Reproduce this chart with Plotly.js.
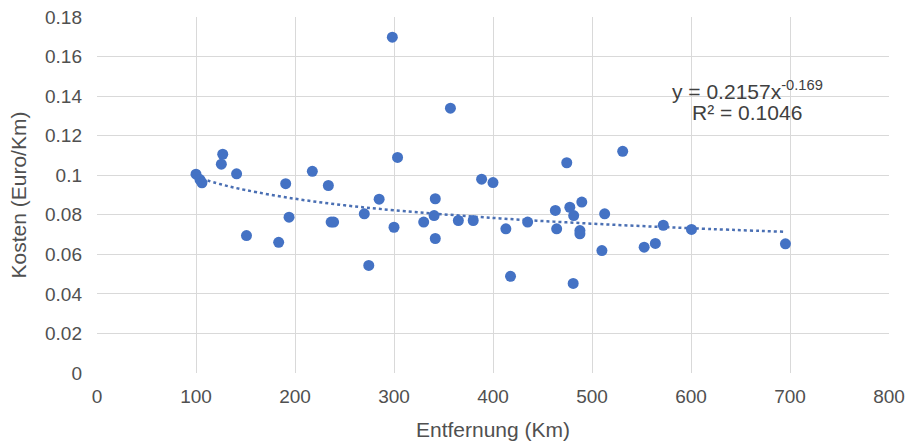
<!DOCTYPE html>
<html>
<head>
<meta charset="utf-8">
<script src="https://cdn.plot.ly/plotly-3.0.1.min.js"></script>
<style>
html,body{margin:0;padding:0;background:#fff;}
#chart{width:909px;height:446px;}
</style>
</head>
<body>
<div id="chart"></div>
<script>
// Entfernung (Km)
const distance = [100, 104, 106, 127, 125.6, 141, 151, 183.5, 190.6, 194,
  217.5, 233.7, 236.5, 239, 270, 274.5, 285, 298.3, 300, 303.6,
  330, 340.5, 341.7, 341.7, 357, 365, 380, 388.5, 400, 413,
  417.7, 435, 463, 464.3, 474.5, 477.6, 481, 481.5, 489.7, 487.8,
  487.8, 510, 512.8, 531, 552.7, 564, 572, 600.5, 695.4];
// Kosten (Euro/Km)
const cost = [0.1005, 0.0978, 0.0962, 0.1106, 0.1056, 0.1007, 0.0695, 0.0661, 0.0957, 0.0788,
  0.102, 0.0948, 0.0763, 0.0763, 0.0805, 0.0544, 0.0879, 0.1698, 0.0737, 0.109,
  0.0763, 0.0796, 0.0881, 0.068, 0.1339, 0.0771, 0.0771, 0.098, 0.0963, 0.0729,
  0.0489, 0.0763, 0.0822, 0.0729, 0.1063, 0.0838, 0.0453, 0.0796, 0.0864, 0.072,
  0.0704, 0.0619, 0.0805, 0.1121, 0.0636, 0.0655, 0.0747, 0.0726, 0.0653];
// trendline (power fit)
const trendX = [100, 125, 150, 200, 250, 300, 400, 500, 600, 695];
const trendY = [0.0991, 0.0954, 0.0925, 0.0881, 0.0848, 0.0823, 0.0784, 0.0755, 0.0732, 0.0714];

const xTickVals = [0, 100, 200, 300, 400, 500, 600, 700, 800];
const xTickText = ["0", "100", "200", "300", "400", "500", "600", "700", "800"];
const yTickVals = [0, 0.02, 0.04, 0.06, 0.08, 0.1, 0.12, 0.14, 0.16, 0.18];
const yTickText = ["0", "0.02", "0.04", "0.06", "0.08", "0.1", "0.12", "0.14", "0.16", "0.18"];

const eqLine1 = "y = 0.2157x<sup>-0.169</sup>";
const eqLine2 = "R² = 0.1046";

const FONT = "Arial, 'Liberation Sans', sans-serif";
const TXT = "#505050";

const data = [
  {
    x: trendX, y: trendY, type: "scatter", mode: "lines",
    line: {color: "#4a6fb3", width: 2.5, dash: "dot", shape: "spline"},
    hoverinfo: "skip", showlegend: false
  },
  {
    x: distance, y: cost, type: "scatter", mode: "markers",
    marker: {color: "#4472c4", size: 11},
    showlegend: false
  }
];

const layout = {
  width: 909, height: 446,
  margin: {l: 97, r: 20, t: 17, b: 73, pad: 0},
  paper_bgcolor: "#fff", plot_bgcolor: "#fff",
  font: {family: FONT, color: TXT, size: 20},
  xaxis: {
    range: [0, 800], tickvals: xTickVals, ticktext: xTickText,
    showgrid: true, gridcolor: "#d9d9d9", gridwidth: 1,
    zeroline: false, showline: false, ticks: "",
    tickfont: {size: 19, color: TXT, family: FONT},
    ticklabelstandoff: 10,
    title: {text: "Entfernung (Km)", font: {size: 21, color: TXT, family: FONT}, standoff: 16},
    fixedrange: true
  },
  yaxis: {
    range: [0, 0.18], tickvals: yTickVals, ticktext: yTickText,
    showgrid: true, gridcolor: "#d9d9d9", gridwidth: 1,
    zeroline: false, showline: false, ticks: "",
    tickfont: {size: 19, color: TXT, family: FONT},
    ticklabelstandoff: 14,
    title: {text: "Kosten (Euro/Km)", font: {size: 21, color: TXT, family: FONT}, standoff: 12},
    fixedrange: true
  },
  annotations: [
    {x: 657, y: 0.1433, xref: "x", yref: "y", text: eqLine1, showarrow: false,
     font: {size: 21, color: "#404040", family: FONT}, xanchor: "center", yanchor: "middle"},
    {x: 657, y: 0.1317, xref: "x", yref: "y", text: eqLine2, showarrow: false,
     font: {size: 21, color: "#404040", family: FONT}, xanchor: "center", yanchor: "middle"}
  ]
};

Plotly.newPlot("chart", data, layout, {displayModeBar: false, staticPlot: true});
</script>
</body>
</html>
